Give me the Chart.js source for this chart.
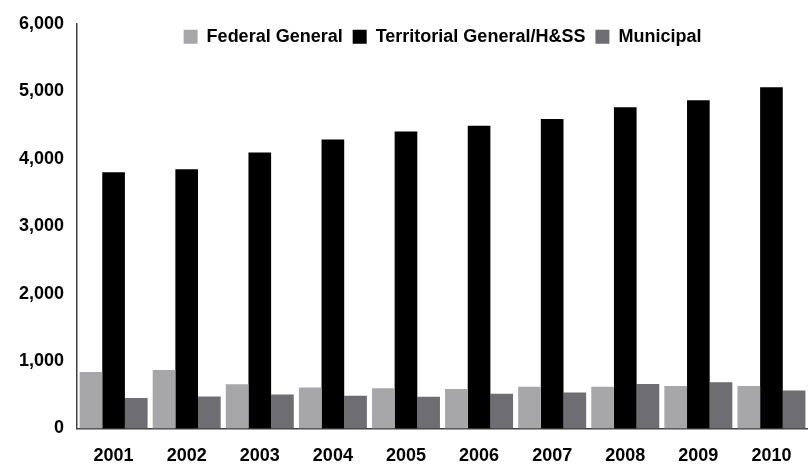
<!DOCTYPE html>
<html>
<head>
<meta charset="utf-8">
<script src="https://cdn.jsdelivr.net/npm/chart.js@4.4.0/dist/chart.umd.min.js"></script>
<style>
  html, body { margin: 0; padding: 0; background: #fff; }
  #wrap { width: 808px; height: 468px; }
</style>
</head>
<body>
<div id="wrap"><canvas id="myChart"></canvas></div>
<script>
const years = ['2001', '2002', '2003', '2004', '2005', '2006', '2007', '2008', '2009', '2010'];
const federalGeneral = [836, 865, 655, 606, 597, 586, 616, 616, 630, 630];
const territorialGeneral = [3800, 3842, 4091, 4286, 4403, 4487, 4589, 4761, 4868, 5059];
const municipal = [450, 474, 503, 484, 469, 513, 532, 660, 685, 562];
const yTicks = [0, 1000, 2000, 3000, 4000, 5000, 6000];

const fuente = { family: 'Liberation Sans, Arial, sans-serif', size: 18, weight: 'bold' };

// la leyenda no ocupa sitio: se dibuja encima del area del grafico
const leyendaEncima = {
  id: 'leyendaEncima',
  beforeLayout(chart) {
    const lg = chart.legend;
    if (lg && !lg._parcheado) {
      const fitOrig = lg.fit.bind(lg);
      lg.fit = function () {
        fitOrig();
        this._altoReal = this.height;
        this.height = 0;
      };
      lg._parcheado = true;
    }
  },
  afterLayout(chart) {
    const lg = chart.legend;
    if (!lg) return;
    const area = chart.chartArea;
    lg.top = area.top - 6;
    lg.bottom = lg.top + lg._altoReal;
    lg.height = lg._altoReal;
    lg.left = area.left;
    lg.right = area.right;
    lg.width = area.right - area.left;
  }
};

const info = {
  labels: years,
  datasets: [
    { label: 'Federal General', data: federalGeneral, backgroundColor: '#a7a7aa' },
    { label: 'Territorial General/H&SS', data: territorialGeneral, backgroundColor: '#000000' },
    { label: 'Municipal', data: municipal, backgroundColor: '#6d6d72' }
  ]
};

const chart = new Chart(document.getElementById('myChart'), {
  type: 'bar',
  data: info,
  plugins: [leyendaEncima],
  options: {
    responsive: true,
    maintainAspectRatio: false,
    animation: false,
    layout: { padding: { left: 6, right: 0, top: 20, bottom: -15 } },
    datasets: { bar: { barPercentage: 1, categoryPercentage: 0.93, borderWidth: 0 } },
    plugins: {
      tooltip: { enabled: false },
      legend: {
        position: 'top',
        align: 'center',
        labels: {
          boxWidth: 14,
          boxHeight: 14,
          padding: 10,
          color: '#000',
          font: fuente
        }
      }
    },
    scales: {
      x: {
        grid: { display: false, drawTicks: false },
        border: { display: true, color: '#404040', width: 1.5 },
        ticks: { color: '#000', font: fuente, padding: 16.5 }
      },
      y: {
        min: 0,
        max: 6000,
        afterBuildTicks: axis => { axis.ticks = yTicks.map(v => ({ value: v })); },
        grid: { display: false, drawTicks: false },
        border: { display: true, color: '#404040', width: 1.5 },
        ticks: {
          color: '#000',
          font: fuente,
          padding: 13,
          callback: v => v.toLocaleString('en-US')
        }
      }
    }
  }
});
</script>
</body>
</html>
